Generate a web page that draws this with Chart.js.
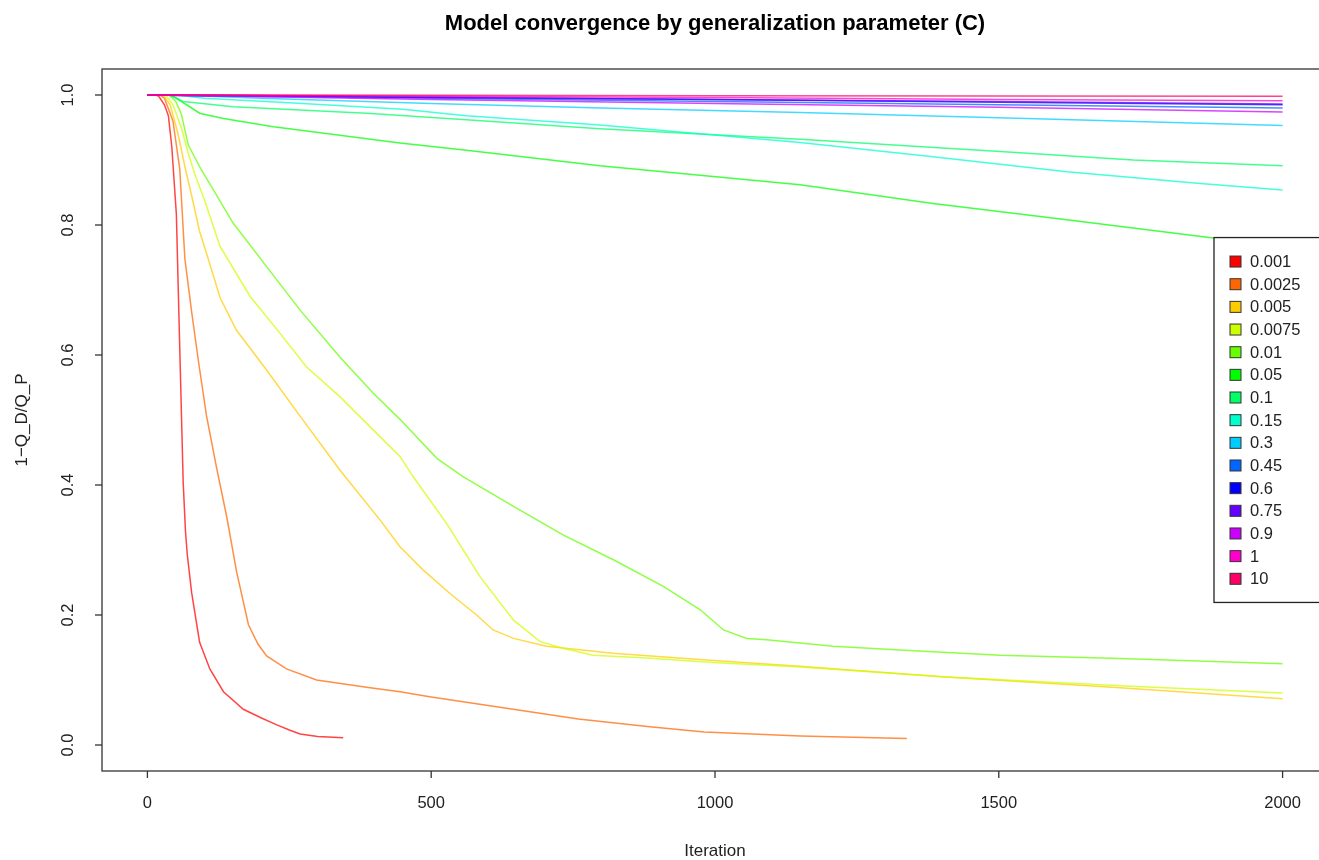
<!DOCTYPE html>
<html>
<head>
<meta charset="utf-8">
<script src="https://cdn.jsdelivr.net/npm/chart.js@4"></script>
<style>
  html, body { margin: 0; padding: 0; background: #fff; overflow: hidden; }
  #wrap { width: 1319px; height: 860px; overflow: hidden; }
</style>
</head>
<body>
<div id="wrap"><canvas id="myChart" width="1340" height="860"></canvas></div>
<script>
// generalization parameter values (legend labels) and their rainbow colours
const cLabels = ['0.001', '0.0025', '0.005', '0.0075', '0.01', '0.05', '0.1', '0.15',
  '0.3', '0.45', '0.6', '0.75', '0.9', '1', '10'];
const cColors = ['#FF0000', '#FF6600', '#FFCC00', '#CCFF00', '#66FF00', '#00FF00', '#00FF66',
  '#00FFCC', '#00CCFF', '#0066FF', '#0000FF', '#6600FF', '#CC00FF', '#FF00CC', '#FF0066'];

// [iteration, 1-Q_D/Q_P]
const c0001 = [[0,1],[15,1],[20,0.998],[30,0.985],[37,0.968],[43,0.92],[51,0.817],[57,0.61],
  [63,0.405],[67,0.33],[70,0.295],[78,0.234],[92,0.158],[110,0.117],[134,0.082],[169,0.055],
  [200,0.042],[228,0.031],[250,0.023],[269,0.017],[300,0.013],[345,0.011]];
const c00025 = [[0,1],[22,1],[30,0.995],[45,0.96],[57,0.886],[66,0.748],[78,0.666],[90,0.59],
  [104,0.507],[122,0.426],[140,0.35],[157,0.267],[178,0.185],[195,0.155],[210,0.137],[245,0.117],
  [298,0.1],[386,0.089],[445,0.082],[500,0.074],[621,0.058],[759,0.04],[885,0.028],[981,0.02],
  [1150,0.014],[1338,0.01]];
const c0005 = [[0,1],[28,1],[40,0.985],[54,0.94],[66,0.89],[78,0.845],[92,0.79],
  [110,0.74],[128,0.688],[157,0.638],[210,0.577],[269,0.506],[339,0.423],[410,0.346],
  [445,0.305],[486,0.269],[533,0.233],[580,0.2],[609,0.177],[645,0.164],[703,0.152],[820,0.141],
  [997,0.13],[1150,0.121],[1400,0.105],[1714,0.088],[2000,0.071]];
const c00075 = [[0,1],[32,1],[45,0.985],[60,0.949],[72,0.91],[84,0.877],[100,0.84],[128,0.767],
  [181,0.69],[233,0.634],[280,0.582],[339,0.536],[410,0.474],[445,0.444],[468,0.413],[527,0.341],
  [586,0.259],[645,0.192],[692,0.159],[732,0.149],[785,0.138],[880,0.134],[997,0.127],
  [1150,0.12],[1400,0.105],[1714,0.091],[2000,0.08]];
const c001 = [[0,1],[38,1],[50,0.99],[60,0.97],[72,0.923],[95,0.885],[151,0.803],[210,0.736],
  [269,0.669],[339,0.597],[398,0.541],[445,0.501],[510,0.441],[556,0.413],[645,0.367],
  [733,0.323],[821,0.285],[909,0.244],[974,0.208],[1015,0.177],[1056,0.164],[1091,0.162],
  [1150,0.157],[1208,0.152],[1326,0.146],[1502,0.138],[1714,0.133],[2000,0.125]];
const c005 = [[0,1],[40,1],[51,0.995],[69,0.985],[92,0.972],[134,0.964],[222,0.951],[339,0.938],
  [445,0.926],[562,0.915],[680,0.903],[797,0.891],[1150,0.862],[1384,0.833],[1620,0.808],
  [1878,0.78],[2000,0.769]];
const c01 = [[0,1],[40,1],[63,0.99],[151,0.982],[386,0.972],[562,0.962],[797,0.948],[1150,0.932],
  [1502,0.913],[1737,0.9],[2000,0.891]];
const c015 = [[0,1],[50,1],[100,0.995],[250,0.988],[450,0.978],[562,0.968],[797,0.954],
  [1150,0.927],[1384,0.905],[1620,0.882],[1855,0.864],[2000,0.854]];
const c03 = [[0,1],[50,1],[200,0.995],[500,0.987],[800,0.98],[1150,0.973],[1500,0.965],[2000,0.953]];

// the flat curves near 1 share these iterations
const iterTop = [0, 100, 500, 1000, 1500, 2000];
const c045 = [1, 0.999, 0.995, 0.99, 0.985, 0.98];
const c06 = [1, 1, 0.996, 0.993, 0.989, 0.985];
const c075 = [1, 0.999, 0.997, 0.993, 0.99, 0.986];
const c09 = [1, 0.999, 0.993, 0.987, 0.981, 0.974];
const c1 = [1, 1, 0.998, 0.996, 0.993, 0.991];
const c10 = [1, 1, 0.9995, 0.999, 0.9985, 0.998];

const xTicks = [0, 500, 1000, 1500, 2000];
const yTicks = [0, 0.2, 0.4, 0.6, 0.8, 1.0];

const pairs = p => p.map(([x, y]) => ({ x, y }));
const topSeries = v => v.map((y, i) => ({ x: iterTop[i], y }));
const seriesData = [pairs(c0001), pairs(c00025), pairs(c0005), pairs(c00075), pairs(c001),
  pairs(c005), pairs(c01), pairs(c015), pairs(c03), topSeries(c045), topSeries(c06),
  topSeries(c075), topSeries(c09), topSeries(c1), topSeries(c10)];

const FONT = '"Liberation Sans", Arial, sans-serif';

// R style box, ticks, labels, title and legend
const rFrame = {
  id: 'rFrame',
  afterDraw(chart) {
    const { ctx, chartArea: a, scales: { x, y } } = chart;
    ctx.save();
    ctx.strokeStyle = '#333';
    ctx.fillStyle = '#222';
    ctx.lineWidth = 1.3;
    ctx.strokeRect(a.left, a.top, a.right - a.left, a.bottom - a.top);

    ctx.font = '16.5px ' + FONT;
    ctx.textAlign = 'center';
    ctx.textBaseline = 'middle';
    xTicks.forEach(v => {
      const px = x.getPixelForValue(v);
      ctx.beginPath(); ctx.moveTo(px, a.bottom); ctx.lineTo(px, a.bottom + 7); ctx.stroke();
      ctx.fillText(String(v), px, a.bottom + 32);
    });
    yTicks.forEach(v => {
      const py = y.getPixelForValue(v);
      ctx.beginPath(); ctx.moveTo(a.left, py); ctx.lineTo(a.left - 7, py); ctx.stroke();
      ctx.save();
      ctx.translate(a.left - 34, py);
      ctx.rotate(-Math.PI / 2);
      ctx.fillText(v.toFixed(1), 0, 0);
      ctx.restore();
    });

    const cx = (a.left + a.right) / 2, cy = (a.top + a.bottom) / 2;
    ctx.font = '17px ' + FONT;
    ctx.fillText('Iteration', cx, a.bottom + 80);
    ctx.save();
    ctx.translate(a.left - 80, cy);
    ctx.rotate(-Math.PI / 2);
    ctx.fillText('1\u2212Q_D/Q_P', 0, 0);
    ctx.restore();

    ctx.font = 'bold 22px ' + FONT;
    ctx.fillStyle = '#000';
    ctx.fillText('Model convergence by generalization parameter (C)', cx, 24);

    // legend, right-aligned in the plot region
    const rowH = 22.66, boxW = 114, boxH = rowH * cLabels.length + 25;
    const lx = a.right - boxW, ly = cy - boxH / 2;
    ctx.fillStyle = '#fff';
    ctx.fillRect(lx, ly, boxW, boxH);
    ctx.strokeStyle = '#222';
    ctx.strokeRect(lx, ly, boxW, boxH);
    ctx.font = '16.5px ' + FONT;
    ctx.textAlign = 'left';
    cLabels.forEach((lab, i) => {
      const ry = ly + 24 + i * rowH;
      ctx.fillStyle = cColors[i];
      ctx.fillRect(lx + 16, ry - 5.5, 11, 11);
      ctx.lineWidth = 1;
      ctx.strokeStyle = '#333';
      ctx.strokeRect(lx + 16, ry - 5.5, 11, 11);
      ctx.fillStyle = '#222';
      ctx.fillText(lab, lx + 36, ry + 1);
    });
    ctx.restore();
  }
};

let ctx = document.getElementById('myChart').getContext('2d');
let chart = new Chart(ctx, {
  type: 'line',
  data: {
    datasets: seriesData.map((d, i) => ({
      label: cLabels[i],
      data: d,
      borderColor: cColors[i] + 'BB',
      borderWidth: 1.5,
      pointRadius: 0,
      tension: 0,
      fill: false,
      order: cLabels.length - i
    }))
  },
  options: {
    responsive: false,
    animation: false,
    devicePixelRatio: 1,
    layout: { padding: { left: 102, top: 69, right: 12, bottom: 89 } },
    plugins: { legend: { display: false }, tooltip: { enabled: false }, title: { display: false } },
    scales: {
      x: { type: 'linear', min: -80, max: 2080, display: false },
      y: { type: 'linear', min: -0.04, max: 1.04, display: false }
    }
  },
  plugins: [rFrame]
});
</script>
</body>
</html>
